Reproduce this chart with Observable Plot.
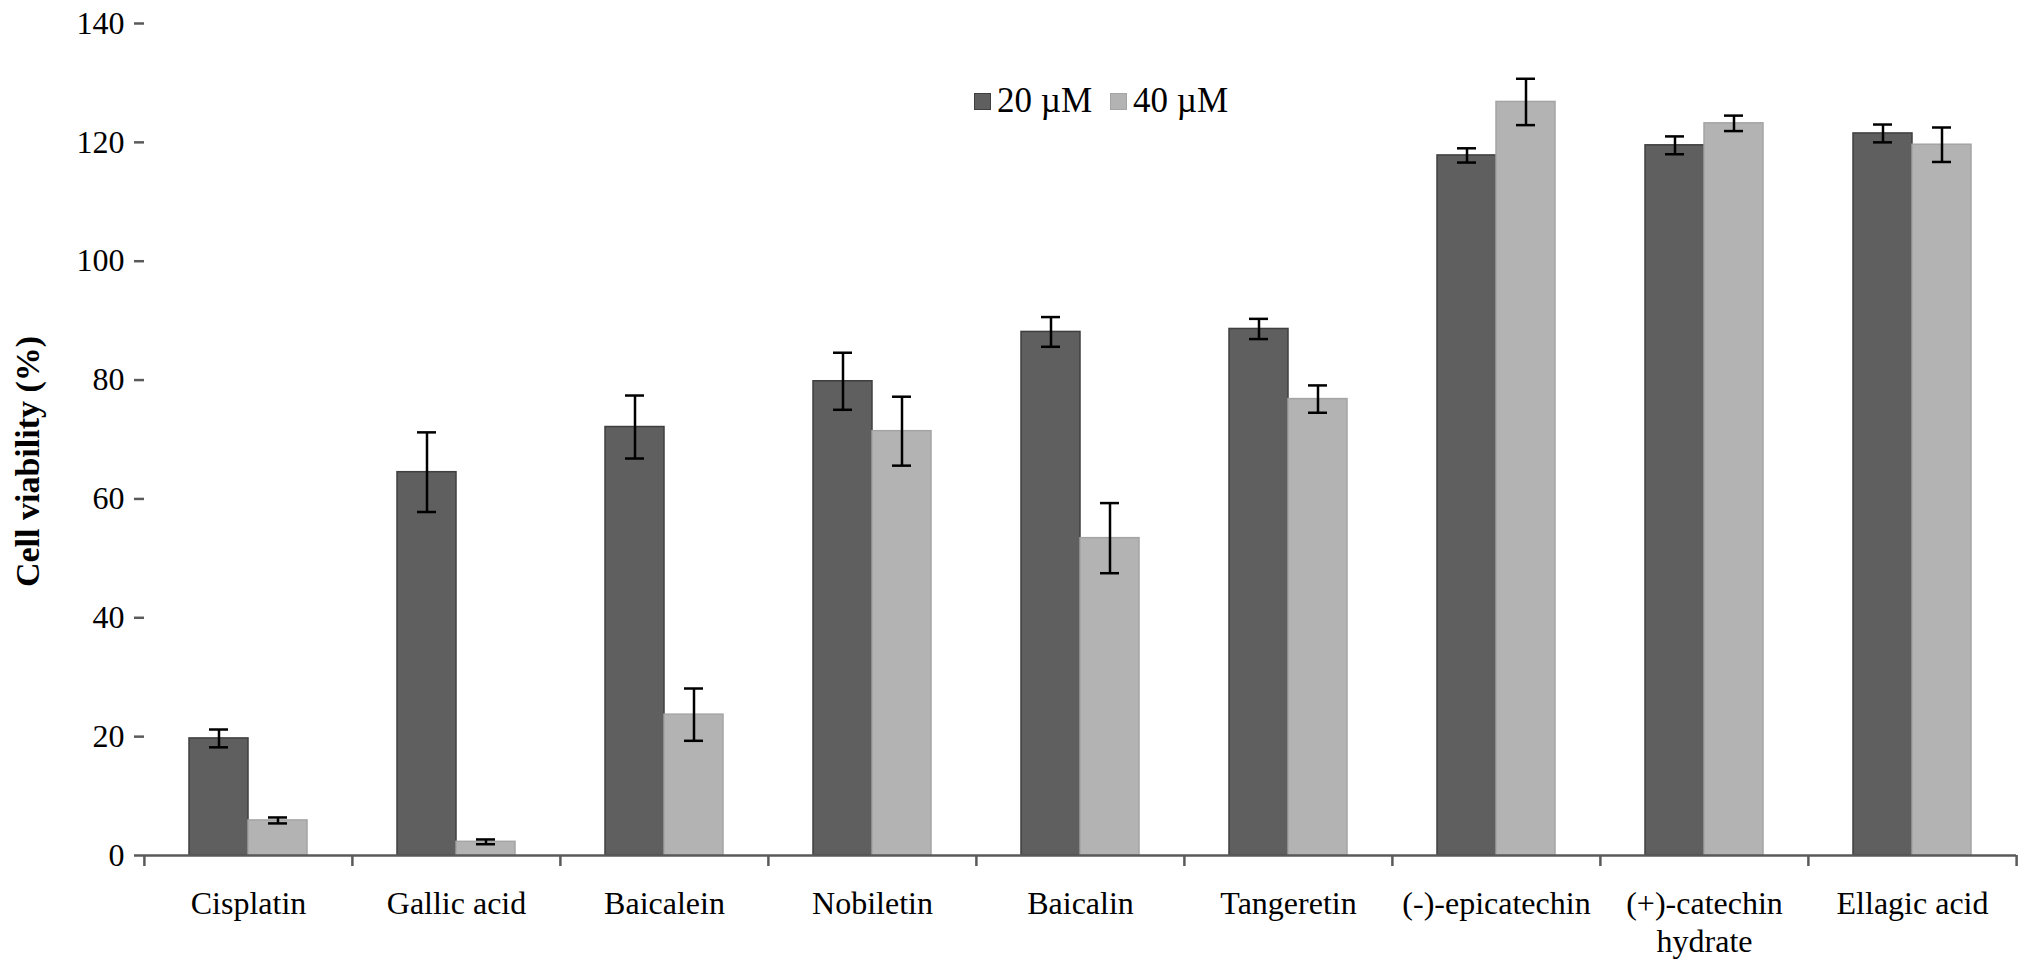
<!DOCTYPE html>
<html lang="en">
<head>
<meta charset="UTF-8">
<title>Cell viability</title>
<script src="https://cdn.jsdelivr.net/npm/d3@7"></script>
<script src="https://cdn.jsdelivr.net/npm/@observablehq/plot@0.6"></script>
<style>
  body { margin: 0; background: white; font-family: 'Liberation Serif', 'Times New Roman', serif; }
  #chart { position: relative; width: 2031px; height: 966px; overflow: hidden; }
  #legend { position: absolute; left: 974px; top: 81px; display: flex; align-items: center; font-size: 35px; line-height: 40px; color: black; }
  #legend .item { display: flex; align-items: center; margin-right: 18px; }
  #legend .sw { width: 17px; height: 17px; margin-right: 6px; box-sizing: border-box; }
</style>
</head>
<body>
<div id="chart"><div id="legend"></div></div>
<script>
// values
const compounds = ["Cisplatin", "Gallic acid", "Baicalein", "Nobiletin", "Baicalin",
  "Tangeretin", "(-)-epicatechin", "(+)-catechin hydrate", "Ellagic acid"];
const doses = ["20 µM", "40 µM"];
const viability20 = [19.7, 64.5, 72.1, 79.8, 88.1, 88.6, 117.8, 119.5, 121.5];
const error20 = [1.5, 6.7, 5.3, 4.8, 2.5, 1.7, 1.2, 1.5, 1.5];
const viability40 = [5.9, 2.3, 23.7, 71.4, 53.4, 76.8, 126.8, 123.2, 119.6];
const error40 = [0.5, 0.4, 4.4, 5.8, 5.9, 2.3, 3.9, 1.3, 2.9];
const yTicks = [0, 20, 40, 60, 80, 100, 120, 140];
const yTitle = "Cell viability (%)";

const doseFill = ["#5f5f5f", "#b3b3b3"];
const doseStroke = ["#3f3f3f", "#a4a4a4"];
const axisGray = "#5a5a5a";

const rows = compounds.flatMap((c, i) => [
  {compound: c, dose: doses[0], value: viability20[i], err: error20[i]},
  {compound: c, dose: doses[1], value: viability40[i], err: error40[i]}
]);

// layout
const W = 2031, H = 966;
const mL = 140, mR = 11, mT = 23, mB = 111;
const facetW = (W - mL - mR) / compounds.length;
const step = facetW / 3.5;       // x band: paddingOuter 0.75
const edge = 1.25 * step;        // band centre -> facet edge
const innerH = H - mT - mB;

const lo = d => d.value - d.err;
const hi = d => d.value + d.err;

const chart = Plot.plot({
  width: W,
  height: H,
  marginLeft: mL,
  marginRight: mR,
  marginTop: mT,
  marginBottom: mB,
  style: {fontFamily: "'Liberation Serif', 'Times New Roman', serif", fontSize: "32px", background: "white", color: "black"},
  fx: {domain: compounds, padding: 0},
  x: {domain: doses, paddingInner: 0, paddingOuter: 0.75, axis: null},
  y: {domain: [0, 140]},
  marks: [
    ...doses.map((dose, k) =>
      Plot.barY(rows.filter(d => d.dose === dose), {
        fx: "compound", x: "dose", y: "value",
        fill: doseFill[k], stroke: doseStroke[k], strokeWidth: 1.5
      })
    ),
    Plot.ruleX(rows, {fx: "compound", x: "dose", y1: lo, y2: hi, stroke: "black", strokeWidth: 2.5}),
    Plot.tickY(rows, {fx: "compound", x: "dose", y: lo, stroke: "black", strokeWidth: 2.5, insetLeft: 20, insetRight: 20}),
    Plot.tickY(rows, {fx: "compound", x: "dose", y: hi, stroke: "black", strokeWidth: 2.5, insetLeft: 20, insetRight: 20}),
    Plot.ruleY([0], {stroke: axisGray, strokeWidth: 2.5}),
    // category boundary ticks under the x axis
    Plot.ruleX(compounds, {fx: d => d, x: () => doses[0], dx: -edge, insetTop: innerH, insetBottom: -11, stroke: axisGray, strokeWidth: 2.5}),
    Plot.ruleX(compounds.slice(-1), {fx: d => d, x: () => doses[1], dx: edge, insetTop: innerH, insetBottom: -11, stroke: axisGray, strokeWidth: 2.5}),
    Plot.axisY({
      ticks: yTicks, tickSize: 10, tickPadding: 10, line: true,
      stroke: axisGray, strokeWidth: 2.5, fill: "black", label: null
    }),
    // y title, only next to the first facet
    Plot.text([yTitle], {
      fx: () => compounds[0], text: d => d, frameAnchor: "left", rotate: -90,
      textAnchor: "middle", lineAnchor: "middle",
      dx: -116, dy: 22, fontWeight: "bold", fontSize: 34, fill: "black"
    }),
    Plot.axisFx({
      anchor: "bottom", tickSize: 0, tickPadding: 31, lineHeight: 1.2, label: null, fill: "black",
      tickFormat: d => d.replace(" hydrate", "\nhydrate")
    })
  ]
});

document.querySelector("#chart").prepend(chart);

// legend
const legend = d3.select("#legend");
doses.forEach((dose, k) => {
  const item = legend.append("span").attr("class", "item");
  item.append("span").attr("class", "sw")
    .style("background", doseFill[k])
    .style("border", `1px solid ${doseStroke[k]}`);
  item.append("span").text(dose);
});
</script>
</body>
</html>
